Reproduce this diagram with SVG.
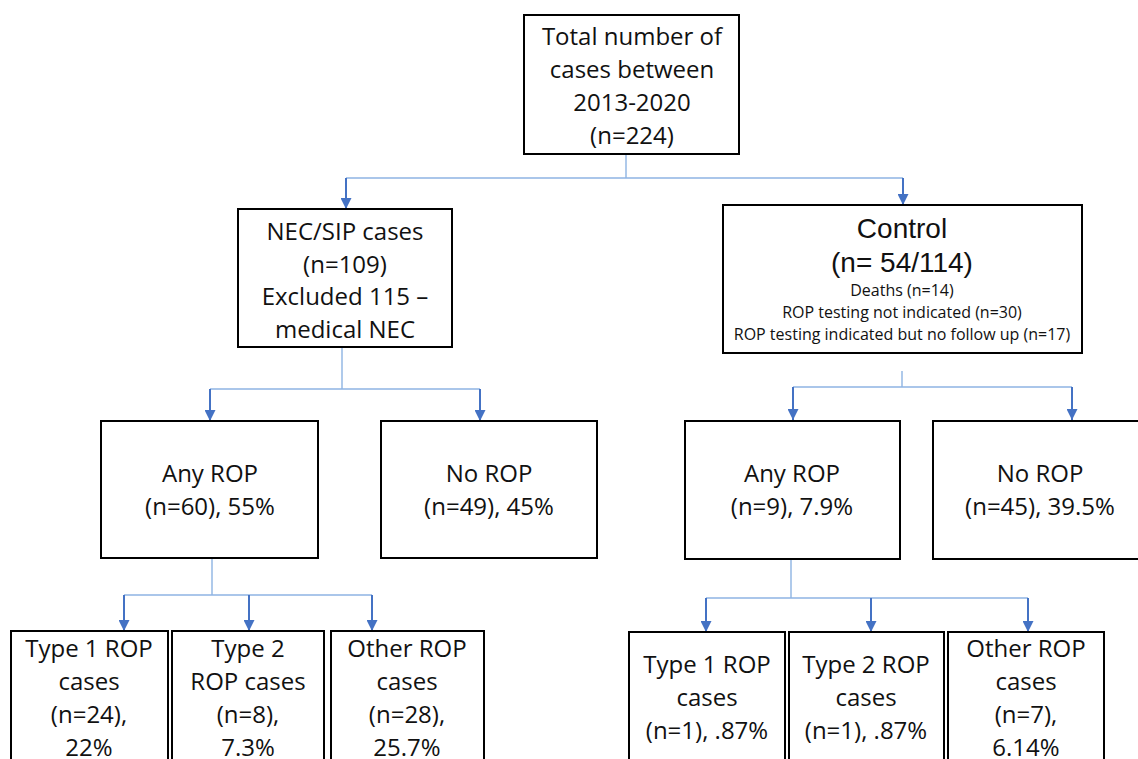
<svg xmlns="http://www.w3.org/2000/svg" width="1138" height="759" viewBox="0 0 1138 759">
<style>
.box{fill:#fff;stroke:#000;stroke-width:2}
.t{font-family:"Open Sans","Liberation Sans",sans-serif;font-size:24px;fill:#111;text-anchor:middle}
.ta{font-family:"Liberation Sans",Arial,sans-serif;font-size:28px;fill:#111;text-anchor:middle}
.ts{font-family:"Open Sans","Liberation Sans",sans-serif;font-size:16px;fill:#111;text-anchor:middle}
.ln{fill:none;stroke:#8EB4E3;stroke-width:1.4}
.ar{fill:none;stroke:#4472C4;stroke-width:2;marker-end:url(#ah)}
</style>
<defs>
<marker id="ah" markerUnits="userSpaceOnUse" markerWidth="11" markerHeight="11" refX="10" refY="5" orient="auto" viewBox="0 0 10 10">
<path d="M0,0 L10,5 L0,10 z" fill="#4472C4"/>
</marker>
</defs>
<rect width="1138" height="759" fill="#fff"/>
<g id="connectors">
<path class="ln" d="M626,154 V178 M346,178 H903"/>
<path class="ar" d="M346,178 V209"/>
<path class="ar" d="M903,178 V205"/>
<path class="ln" d="M342,347 V389 M210,389 H480"/>
<path class="ar" d="M210,389 V421"/>
<path class="ar" d="M480,389 V421"/>
<path class="ln" d="M902,371 V387 M793,387 H1072"/>
<path class="ar" d="M793,387 V420"/>
<path class="ar" d="M1072,387 V420"/>
<path class="ln" d="M212,558 V595 M124,595 H372"/>
<path class="ar" d="M124,595 V631"/>
<path class="ar" d="M249,595 V631"/>
<path class="ar" d="M372,595 V631"/>
<path class="ln" d="M791,559 V598 M706,598 H1028"/>
<path class="ar" d="M706,598 V632"/>
<path class="ar" d="M871,598 V632"/>
<path class="ar" d="M1028,598 V632"/>
</g>
<g id="total">
<rect class="box" x="524" y="15" width="215" height="139"/>
<text class="t" x="632" y="45">Total number of</text>
<text class="t" x="632" y="78">cases between</text>
<text class="t" x="632" y="111">2013-2020</text>
<text class="t" x="632" y="144">(n=224)</text>
</g>
<g id="nec">
<rect class="box" x="238" y="209" width="214" height="138"/>
<text class="t" x="345" y="240">NEC/SIP cases</text>
<text class="t" x="345" y="273">(n=109)</text>
<text class="t" x="345" y="305">Excluded 115 –</text>
<text class="t" x="345" y="338">medical NEC</text>
</g>
<g id="control">
<rect class="box" x="723" y="205" width="359" height="148"/>
<text class="ta" x="902" y="238">Control</text>
<text class="ta" x="902" y="272">(n= 54/114)</text>
<text class="ts" x="902" y="296">Deaths (n=14)</text>
<text class="ts" x="902" y="318">ROP testing not indicated (n=30)</text>
<text class="ts" x="902" y="340">ROP testing indicated but no follow up (n=17)</text>
</g>
<g id="nec-any">
<rect class="box" x="101" y="421" width="217" height="137"/>
<text class="t" x="210" y="482">Any ROP</text>
<text class="t" x="210" y="515">(n=60), 55%</text>
</g>
<g id="nec-no">
<rect class="box" x="381" y="421" width="216" height="137"/>
<text class="t" x="489" y="482">No ROP</text>
<text class="t" x="489" y="515">(n=49), 45%</text>
</g>
<g id="ctl-any">
<rect class="box" x="685" y="421" width="215" height="138"/>
<text class="t" x="792" y="482">Any ROP</text>
<text class="t" x="792" y="515">(n=9), 7.9%</text>
</g>
<g id="ctl-no">
<rect class="box" x="933" y="421" width="215" height="138"/>
<text class="t" x="1040" y="482">No ROP</text>
<text class="t" x="1040" y="515">(n=45), 39.5%</text>
</g>
<g id="nec-type1">
<rect class="box" x="11" y="631" width="157" height="150"/>
<text class="t" x="89" y="657">Type 1 ROP</text>
<text class="t" x="89" y="690">cases</text>
<text class="t" x="89" y="723">(n=24),</text>
<text class="t" x="89" y="756">22%</text>
</g>
<g id="nec-type2">
<rect class="box" x="172" y="631" width="152" height="150"/>
<text class="t" x="248" y="657">Type 2</text>
<text class="t" x="248" y="690">ROP cases</text>
<text class="t" x="248" y="723">(n=8),</text>
<text class="t" x="248" y="756">7.3%</text>
</g>
<g id="nec-other">
<rect class="box" x="331" y="631" width="153" height="150"/>
<text class="t" x="407" y="657">Other ROP</text>
<text class="t" x="407" y="690">cases</text>
<text class="t" x="407" y="723">(n=28),</text>
<text class="t" x="407" y="756">25.7%</text>
</g>
<g id="ctl-type1">
<rect class="box" x="629" y="632" width="156" height="150"/>
<text class="t" x="707" y="673">Type 1 ROP</text>
<text class="t" x="707" y="706">cases</text>
<text class="t" x="707" y="739">(n=1), .87%</text>
</g>
<g id="ctl-type2">
<rect class="box" x="789" y="632" width="155" height="150"/>
<text class="t" x="866" y="673">Type 2 ROP</text>
<text class="t" x="866" y="706">cases</text>
<text class="t" x="866" y="739">(n=1), .87%</text>
</g>
<g id="ctl-other">
<rect class="box" x="948" y="632" width="156" height="150"/>
<text class="t" x="1026" y="657">Other ROP</text>
<text class="t" x="1026" y="690">cases</text>
<text class="t" x="1026" y="723">(n=7),</text>
<text class="t" x="1026" y="756">6.14%</text>
</g>
</svg>
